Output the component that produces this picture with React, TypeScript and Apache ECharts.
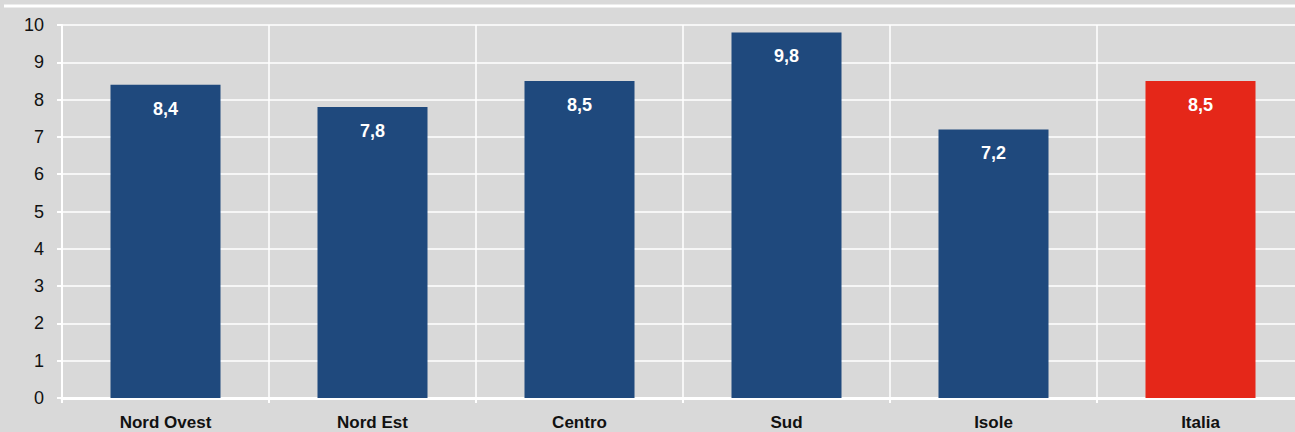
import React, { useEffect, useRef } from "react";
import * as echarts from "echarts";

const categories = ["Nord Ovest", "Nord Est", "Centro", "Sud", "Isole", "Italia"];
const values = [8.4, 7.8, 8.5, 9.8, 7.2, 8.5];
const barColors = ["#1f497d", "#1f497d", "#1f497d", "#1f497d", "#1f497d", "#e52719"];

export default function App() {
  const ref = useRef<HTMLDivElement>(null);
  useEffect(() => {
    if (!ref.current) return;
    const chart = echarts.init(ref.current, null, { renderer: "svg" });
    chart.setOption({
      animation: false,
      backgroundColor: "#d9d9d9",
      grid: { left: 62, top: 25, width: 1242, height: 373 },
      graphic: [
        {
          type: "line",
          shape: { x1: 4, y1: 6, x2: 1295, y2: 6 },
          style: { stroke: "#ffffff", lineWidth: 3 },
        },
      ],
      xAxis: {
        type: "category",
        data: categories,
        axisLine: { show: true, lineStyle: { color: "#ffffff", width: 3 } },
        axisTick: { show: true, length: 5, lineStyle: { color: "#ffffff", width: 2 } },
        splitLine: { show: true, lineStyle: { color: "#ffffff", width: 1.5 } },
        axisLabel: {
          color: "#111111",
          fontFamily: "'Liberation Sans Narrow', 'Liberation Sans', Arial, sans-serif",
          fontWeight: "bold",
          fontSize: 17,
          margin: 16,
        },
      },
      yAxis: {
        type: "value",
        min: 0,
        max: 10,
        interval: 1,
        axisLine: { show: true, lineStyle: { color: "#ffffff", width: 2 } },
        axisTick: { show: true, length: 5, lineStyle: { color: "#ffffff", width: 2 } },
        splitLine: { show: true, lineStyle: { color: "#ffffff", width: 1.5 } },
        axisLabel: {
          color: "#111111",
          fontFamily: "'Liberation Sans', Arial, sans-serif",
          fontSize: 18,
          margin: 18,
        },
      },
      series: [
        {
          type: "bar",
          barWidth: 110,
          data: values.map((v, i) => ({ value: v, itemStyle: { color: barColors[i] } })),
          label: {
            show: true,
            position: "insideTop",
            distance: 15,
            color: "#ffffff",
            fontWeight: "bold",
            fontSize: 18,
            fontFamily: "'Liberation Sans Narrow', 'Liberation Sans', Arial, sans-serif",
            formatter: (p: any) => String(p.value).replace(".", ","),
          },
        },
      ],
    });
    return () => chart.dispose();
  }, []);
  return (
    <div style={{ position: "fixed", left: 0, top: 0, width: 1295, height: 432, overflow: "hidden" }}>
      <div ref={ref} style={{ width: 1310, height: 432 }} />
    </div>
  );
}
